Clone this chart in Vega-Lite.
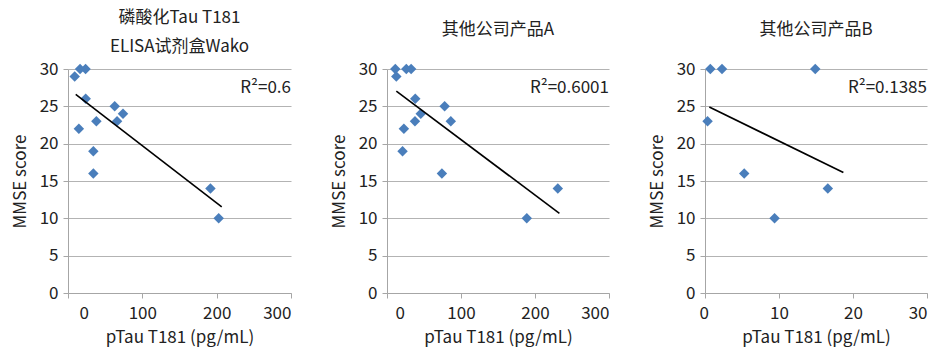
{
  "$schema": "https://vega.github.io/schema/vega-lite/v6.json",
  "autosize": {"type": "none"},
  "padding": {"left": 68, "top": 69, "right": 883, "bottom": 286},
  "background": "white",
  "config": {
    "font": "Noto Sans CJK SC",
    "view": {"stroke": null},
    "concat": {"spacing": 96},
    "text": {"font": "Noto Sans CJK SC", "fontSize": 17, "color": "#222222"},
    "axis": {
      "labelFont": "Noto Sans CJK SC",
      "titleFont": "Noto Sans CJK SC",
      "labelFontSize": 17,
      "titleFontSize": 17,
      "labelColor": "#222222",
      "titleColor": "#222222",
      "titleFontWeight": "normal",
      "domainColor": "#a6a6a6",
      "tickColor": "#a6a6a6",
      "tickSize": 5,
      "gridColor": "#b3b3b3",
      "labelOverlap": false
    },
    "axisX": {"labelPadding": 7, "titlePadding": 8},
    "axisY": {"labelPadding": 5, "titlePadding": 10},
    "title": {
      "font": "Noto Sans CJK SC",
      "fontSize": 17,
      "fontWeight": "normal",
      "color": "#222222",
      "frame": "group",
      "anchor": "middle"
    }
  },
  "bounds": "flush",
  "datasets": {
    "wako": [
      {"ptau": 9.0, "mmse": 29},
      {"ptau": 16.2, "mmse": 30},
      {"ptau": 23.6, "mmse": 30},
      {"ptau": 23.8, "mmse": 26},
      {"ptau": 14.6, "mmse": 22},
      {"ptau": 38.2, "mmse": 23},
      {"ptau": 34.1, "mmse": 19},
      {"ptau": 34.1, "mmse": 16},
      {"ptau": 62.8, "mmse": 25},
      {"ptau": 66.0, "mmse": 23},
      {"ptau": 74.0, "mmse": 24},
      {"ptau": 191.6, "mmse": 14},
      {"ptau": 202.7, "mmse": 10}
    ],
    "wakoTrend": [
      {"ptau": 10.4, "mmse": 26.6},
      {"ptau": 206.8, "mmse": 11.55}
    ],
    "wakoR2": [{"ptau": 300, "mmse": 27.4, "label": "R²=0.6"}],
    "productA": [
      {"ptau": 11.2, "mmse": 30},
      {"ptau": 12.6, "mmse": 29},
      {"ptau": 26.1, "mmse": 30},
      {"ptau": 32.6, "mmse": 30},
      {"ptau": 38.2, "mmse": 26},
      {"ptau": 45.6, "mmse": 24},
      {"ptau": 37.8, "mmse": 23},
      {"ptau": 22.8, "mmse": 22},
      {"ptau": 21.0, "mmse": 19},
      {"ptau": 77.9, "mmse": 25},
      {"ptau": 86.2, "mmse": 23},
      {"ptau": 74.2, "mmse": 16},
      {"ptau": 188.9, "mmse": 10},
      {"ptau": 230.8, "mmse": 14}
    ],
    "productATrend": [
      {"ptau": 12.6, "mmse": 27.05},
      {"ptau": 233.0, "mmse": 10.65}
    ],
    "productAR2": [{"ptau": 300, "mmse": 27.4, "label": "R²=0.6001"}],
    "productB": [
      {"ptau": 0.35, "mmse": 23},
      {"ptau": 0.72, "mmse": 30},
      {"ptau": 2.3, "mmse": 30},
      {"ptau": 14.9, "mmse": 30},
      {"ptau": 5.3, "mmse": 16},
      {"ptau": 9.4, "mmse": 10},
      {"ptau": 16.6, "mmse": 14}
    ],
    "productBTrend": [
      {"ptau": 0.58, "mmse": 24.9},
      {"ptau": 18.7, "mmse": 16.15}
    ],
    "productBR2": [{"ptau": 30, "mmse": 27.4, "label": "R²=0.1385"}]
  },
  "hconcat": [
    {
      "width": 223,
      "height": 224,
      "title": {"text": ["磷酸化Tau T181", "ELISA试剂盒Wako"], "offset": 4, "lineHeight": 29},
      "encoding": {
        "x": {"field": "ptau", "type": "quantitative", "scale": {"domain": [0, 300], "nice": false, "zero": true},
              "axis": {"values": [0, 100, 200, 300], "grid": false, "title": "pTau T181 (pg/mL)",
                       "labelOffset": {"condition": {"test": "datum.value === 0", "value": 11}, "value": 0}}},
        "y": {"field": "mmse", "type": "quantitative", "scale": {"domain": [0, 30], "nice": false},
              "axis": {"values": [0, 5, 10, 15, 20, 25, 30], "grid": true, "title": "MMSE score"}}
      },
      "layer": [
        {
          "data": {"name": "wako"},
          "mark": {"type": "point", "shape": "diamond", "filled": true, "size": 110, "color": "#4A7EBB", "opacity": 1}
        },
        {
          "data": {"name": "wakoTrend"},
          "mark": {"type": "line", "color": "#000000", "strokeWidth": 1.6}
        },
        {
          "data": {"name": "wakoR2"},
          "mark": {"type": "text", "align": "right", "baseline": "middle"},
          "encoding": {"text": {"field": "label"}}
        }
      ]
    },
    {
      "width": 222,
      "height": 224,
      "title": {"text": "其他公司产品A", "offset": 21},
      "encoding": {
        "x": {"field": "ptau", "type": "quantitative", "scale": {"domain": [0, 300], "nice": false, "zero": true},
              "axis": {"values": [0, 100, 200, 300], "grid": false, "title": "pTau T181 (pg/mL)",
                       "labelOffset": {"condition": {"test": "datum.value === 0", "value": 8}, "value": 0}}},
        "y": {"field": "mmse", "type": "quantitative", "scale": {"domain": [0, 30], "nice": false},
              "axis": {"values": [0, 5, 10, 15, 20, 25, 30], "grid": true, "title": "MMSE score"}}
      },
      "layer": [
        {
          "data": {"name": "productA"},
          "mark": {"type": "point", "shape": "diamond", "filled": true, "size": 110, "color": "#4A7EBB", "opacity": 1}
        },
        {
          "data": {"name": "productATrend"},
          "mark": {"type": "line", "color": "#000000", "strokeWidth": 1.6}
        },
        {
          "data": {"name": "productAR2"},
          "mark": {"type": "text", "align": "right", "baseline": "middle"},
          "encoding": {"text": {"field": "label"}}
        }
      ]
    },
    {
      "width": 222,
      "height": 224,
      "title": {"text": "其他公司产品B", "offset": 21},
      "encoding": {
        "x": {"field": "ptau", "type": "quantitative", "scale": {"domain": [0, 30], "nice": false, "zero": true},
              "axis": {"values": [0, 10, 20, 30], "grid": false, "title": "pTau T181 (pg/mL)",
                       "labelOffset": {"condition": {"test": "datum.value === 0", "value": -6}, "value": 0}}},
        "y": {"field": "mmse", "type": "quantitative", "scale": {"domain": [0, 30], "nice": false},
              "axis": {"values": [0, 5, 10, 15, 20, 25, 30], "grid": true, "title": "MMSE score"}}
      },
      "layer": [
        {
          "data": {"name": "productB"},
          "mark": {"type": "point", "shape": "diamond", "filled": true, "size": 110, "color": "#4A7EBB", "opacity": 1}
        },
        {
          "data": {"name": "productBTrend"},
          "mark": {"type": "line", "color": "#000000", "strokeWidth": 1.6}
        },
        {
          "data": {"name": "productBR2"},
          "mark": {"type": "text", "align": "right", "baseline": "middle"},
          "encoding": {"text": {"field": "label"}}
        }
      ]
    }
  ]
}
